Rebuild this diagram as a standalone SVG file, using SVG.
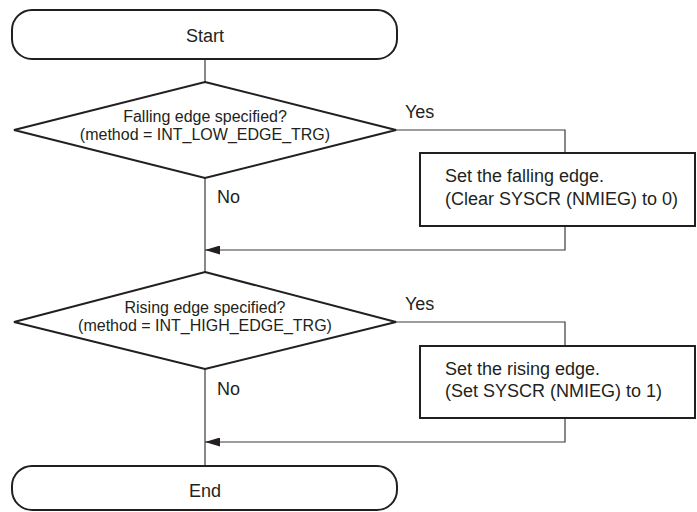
<svg xmlns="http://www.w3.org/2000/svg" width="697" height="512" viewBox="0 0 697 512">
<style>
.t{font-family:"Liberation Sans",Arial,sans-serif;font-size:18px;fill:#231f20}
.d{font-size:16px}
.c{text-anchor:middle}
.sh{fill:#fff;stroke:#231f20;stroke-width:2}
.ln{fill:none;stroke:#3a3a3a;stroke-width:1.2}
</style>
<defs>
<marker id="ah" markerWidth="15" markerHeight="9" refX="15" refY="4.5" orient="auto" markerUnits="userSpaceOnUse">
<path d="M0,0 L15,4.5 L0,9 Z" fill="#231f20"/>
</marker>
</defs>
<g id="connectors">
<line class="ln" x1="205" y1="59" x2="205" y2="82"/>
<line class="ln" x1="205" y1="178" x2="205" y2="272"/>
<polyline class="ln" points="396,130 565,130 565,153"/>
<polyline class="ln" points="565,226 565,250 205,250" marker-end="url(#ah)"/>
<line class="ln" x1="205" y1="369" x2="205" y2="466"/>
<polyline class="ln" points="396,322 565,322 565,346"/>
<polyline class="ln" points="565,418 565,442 205,442" marker-end="url(#ah)"/>
<text class="t" x="405" y="118">Yes</text>
<text class="t" x="217" y="203">No</text>
<text class="t" x="405" y="310">Yes</text>
<text class="t" x="217" y="395">No</text>
</g>
<g id="start">
<rect class="sh" x="12" y="10" width="385" height="49" rx="20" ry="20"/>
<text class="t c" x="205" y="42">Start</text>
</g>
<g id="decision1">
<polygon class="sh" points="205,82 396,130 205,178 14,130"/>
<text class="t d c" x="205" y="122">Falling edge specified?</text>
<text class="t d c" x="205" y="140">(method = INT_LOW_EDGE_TRG)</text>
</g>
<g id="process1">
<rect class="sh" x="420" y="153" width="275" height="73"/>
<text class="t" x="445" y="182">Set the falling edge.</text>
<text class="t" x="445" y="205">(Clear SYSCR (NMIEG) to 0)</text>
</g>
<g id="decision2">
<polygon class="sh" points="205,272 396,322 205,369 14,322"/>
<text class="t d c" x="205" y="313">Rising edge specified?</text>
<text class="t d c" x="205" y="331">(method = INT_HIGH_EDGE_TRG)</text>
</g>
<g id="process2">
<rect class="sh" x="420" y="346" width="275" height="72"/>
<text class="t" x="445" y="375">Set the rising edge.</text>
<text class="t" x="445" y="397">(Set SYSCR (NMIEG) to 1)</text>
</g>
<g id="end">
<rect class="sh" x="12" y="466" width="385" height="44" rx="20" ry="20"/>
<text class="t c" x="205" y="497">End</text>
</g>
</svg>
